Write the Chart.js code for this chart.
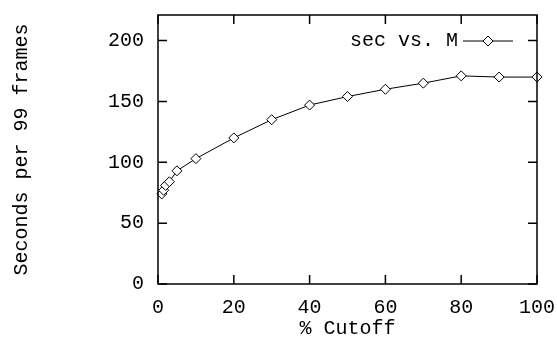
<!DOCTYPE html>
<html lang="en">
<head>
  <meta charset="UTF-8" />
  <title>sec vs. M</title>
  <style>
    html, body { margin: 0; padding: 0; background: #fff; }
    #wrap { width: 557px; height: 341px; }
  </style>
</head>
<body>
  <div id="wrap"><canvas id="chart" width="557" height="341"></canvas></div>

  <script src="https://cdn.jsdelivr.net/npm/chart.js"></script>
  <script>
    // data
    const cutoff = [1, 1.5, 2, 3, 5, 10, 20, 30, 40, 50, 60, 70, 80, 90, 100];
    const seconds = [74, 77, 81, 84, 93, 103, 120, 135, 147, 154, 160, 165, 171, 170, 170];
    const xTicks = [0, 20, 40, 60, 80, 100];
    const yTicks = [0, 50, 100, 150, 200];
    const seriesLabel = 'sec vs. M';

    const FONT = '"Liberation Mono", "Courier New", monospace';

    // gnuplot style box with inward ticks on all sides
    const frame = {
      id: 'frame',
      afterDraw(chart) {
        const ctx = chart.ctx;
        const a = chart.chartArea;
        const xs = chart.scales.x, ys = chart.scales.y;
        const tl = 9;
        ctx.save();
        ctx.strokeStyle = '#000';
        ctx.lineWidth = 1.5;
        ctx.strokeRect(a.left, a.top, a.right - a.left, a.bottom - a.top);
        ctx.beginPath();
        xTicks.forEach(v => {
          const px = xs.getPixelForValue(v);
          ctx.moveTo(px, a.bottom); ctx.lineTo(px, a.bottom - tl);
          ctx.moveTo(px, a.top); ctx.lineTo(px, a.top + tl);
        });
        yTicks.forEach(v => {
          const py = ys.getPixelForValue(v);
          ctx.moveTo(a.left, py); ctx.lineTo(a.left + tl, py);
          ctx.moveTo(a.right, py); ctx.lineTo(a.right - tl, py);
        });
        ctx.stroke();

        // key, top right inside the box
        const ky = 41;
        ctx.font = '20px ' + FONT;
        ctx.fillStyle = '#000';
        ctx.textAlign = 'right';
        ctx.textBaseline = 'middle';
        ctx.fillText(seriesLabel, 458, ky);
        ctx.lineWidth = 1;
        ctx.beginPath();
        ctx.moveTo(463, ky); ctx.lineTo(513, ky);
        ctx.stroke();
        Chart.helpers.drawPoint(ctx, {pointStyle: 'rectRot', radius: 5, rotation: 0}, 488, ky);
        ctx.fillStyle = '#fff';
        ctx.fill();
        ctx.stroke();
        ctx.restore();
      }
    };

    // fixed box sizes, no extra room for edge labels
    function fixX(s) {
      s.height = 57;
      s.paddingLeft = s.paddingRight = s.paddingTop = s.paddingBottom = 0;
    }
    function fixY(s) {
      s.width = 158;
      s.paddingLeft = s.paddingRight = s.paddingTop = s.paddingBottom = 0;
    }

    new Chart(document.getElementById('chart'), {
      type: 'scatter',
      data: {
        datasets: [{
          label: seriesLabel,
          data: cutoff.map((c, i) => ({x: c, y: seconds[i]})),
          showLine: true,
          borderColor: '#000',
          borderWidth: 1,
          backgroundColor: '#fff',
          pointStyle: 'rectRot',
          pointRadius: 5,
          pointBorderWidth: 1,
          pointBorderColor: '#000',
          pointBackgroundColor: '#fff',
          clip: false
        }]
      },
      options: {
        responsive: false,
        animation: false,
        devicePixelRatio: 1,
        layout: { padding: { top: 15, right: 20, left: 0, bottom: 0 } },
        plugins: {
          legend: { display: false },
          tooltip: { enabled: false }
        },
        scales: {
          x: {
            type: 'linear',
            min: 0, max: 100,
            afterBuildTicks: s => { s.ticks = xTicks.map(v => ({value: v})); },
            afterFit: fixX,
            grid: { display: false, drawTicks: false },
            border: { display: false },
            ticks: { color: '#000', font: { family: FONT, size: 20 }, padding: 12, maxRotation: 0 },
            title: { display: true, text: '% Cutoff', color: '#000', font: { family: FONT, size: 20 }, padding: { top: 1, bottom: 0 } }
          },
          y: {
            type: 'linear',
            min: 0, max: 221,
            afterBuildTicks: s => { s.ticks = yTicks.map(v => ({value: v})); },
            afterFit: fixY,
            grid: { display: false, drawTicks: false },
            border: { display: false },
            ticks: { color: '#000', font: { family: FONT, size: 20 }, padding: 14 },
            title: { display: true, text: 'Seconds per 99 frames', color: '#000', font: { family: FONT, size: 20 }, padding: { top: 10, bottom: 0 } }
          }
        }
      },
      plugins: [frame]
    });
  </script>
</body>
</html>
